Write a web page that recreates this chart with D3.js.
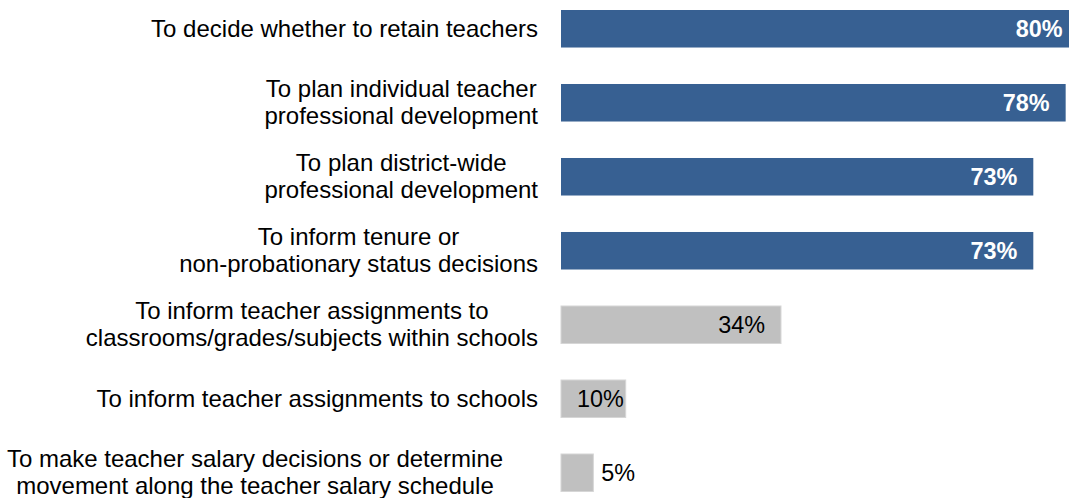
<!DOCTYPE html>
<html>
<head>
<meta charset="utf-8">
<script src="https://cdn.jsdelivr.net/npm/d3@7"></script>
<style>
  html, body { margin: 0; padding: 0; background: #fff; }
  svg { display: block; }
  text { font-family: Arial, "Liberation Sans", sans-serif; }
</style>
</head>
<body>
<svg id="chart" width="1069" height="498"></svg>
<script>
// Categories (each entry is one label, split into its display lines)
const categories = [
  ["To decide whether to retain teachers"],
  ["To plan individual teacher", "professional development"],
  ["To plan district-wide", "professional development"],
  ["To inform tenure or", "non-probationary status decisions"],
  ["To inform teacher assignments to", "classrooms/grades/subjects within schools"],
  ["To inform teacher assignments to schools"],
  ["To make teacher salary decisions or determine", "movement along the teacher salary schedule"]
];
const values = [80, 78, 73, 73, 34, 10, 5];
const highlighted = [true, true, true, true, false, false, false];

const width = 1069, height = 498;
const barStart = 561;
const catFont = 24;
const valFont = 23.4;
const lineGap = 27;

const svg = d3.select("#chart");

const x = d3.scaleLinear().domain([0, 100]).range([barStart, barStart + 647]);
const y = d3.scaleBand()
  .domain(d3.range(categories.length))
  .range([10, 491.5])
  .paddingInner(0.493)
  .paddingOuter(0);

const BLUE = "#376092";
const GREY = "#c0c0c0";

// Bars
svg.append("g").selectAll("rect")
  .data(values)
  .join("rect")
  .attr("x", x(0))
  .attr("y", (d, i) => y(i))
  .attr("width", d => x(d) - x(0))
  .attr("height", y.bandwidth())
  .attr("fill", (d, i) => highlighted[i] ? BLUE : GREY)
  .attr("stroke", (d, i) => highlighted[i] ? "none" : "#d6d6d6")
  .attr("stroke-width", 1);

// Category labels: lines centred on each other, block right-aligned;
// very wide labels are centred in the label column instead
const labelRight = 538;
const wideCentre = 255;
const labels = svg.append("g").attr("font-size", catFont).attr("fill", "#000");
categories.forEach((lines, i) => {
  const cy = y(i) + y.bandwidth() / 2;
  const g = labels.append("g");
  const texts = lines.map((line, k) => g.append("text")
    .attr("y", cy + (k - (lines.length - 1) / 2) * lineGap)
    .attr("dy", "0.33em")
    .attr("text-anchor", "middle")
    .text(line));
  const maxW = d3.max(texts, t => t.node().getComputedTextLength());
  const cx = (labelRight - maxW < 60) ? wideCentre : labelRight - maxW / 2;
  texts.forEach(t => t.attr("x", cx));
});

// Value labels: inside the bar end when they fit, otherwise just past it
const vg = svg.append("g").attr("font-size", valFont);
values.forEach((v, i) => {
  const cy = y(i) + y.bandwidth() / 2;
  const t = vg.append("text")
    .attr("y", cy)
    .attr("dy", "0.35em")
    .attr("font-weight", highlighted[i] ? "bold" : "normal")
    .attr("fill", highlighted[i] ? "#fff" : "#000")
    .attr("text-anchor", "end")
    .text(v + "%");
  const w = t.node().getComputedTextLength();
  const end = x(v);
  const right = Math.max(end - 16, x(0) + 16 + w);
  if (right > end) {
    t.attr("text-anchor", "start").attr("x", end + 8);
  } else {
    t.attr("x", right);
  }
});
</script>
</body>
</html>
